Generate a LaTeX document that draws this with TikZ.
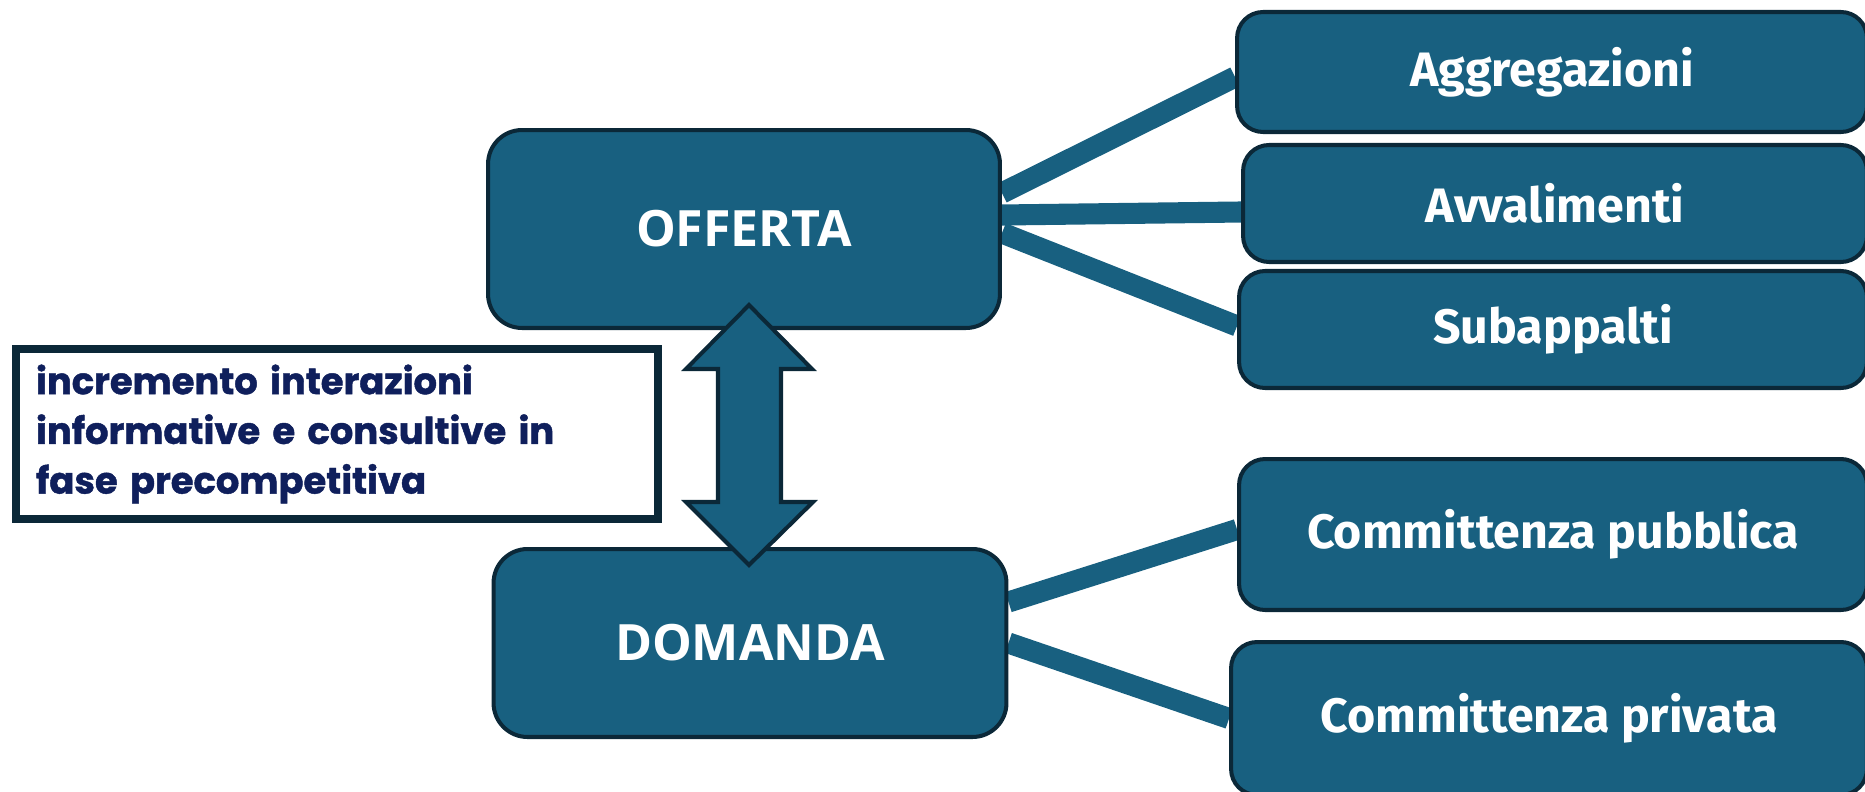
\documentclass[tikz,border=0pt]{standalone}
\usepackage{fontspec}
\usetikzlibrary{positioning,backgrounds,calc}
\newfontfamily\headfont{Open Sans}
\newfontfamily\itemfont{Fira Sans}
\newfontfamily\notefont[BoldFeatures={FakeBold=1.2}]{Poppins}
\definecolor{pblue}{HTML}{186080}
\definecolor{pdark}{HTML}{0B2838}
\definecolor{pnavy}{HTML}{0F1F5C}

\tikzset{
  mainbox/.style={draw=pdark, line width=2.3pt, fill=pblue, rounded corners=0.68cm,
    text=white, font=\headfont\bfseries\fontsize{28.5}{32}\selectfont},
  itembox/.style={draw=pdark, line width=2.3pt, fill=pblue, rounded corners=0.52cm,
    text=white, font=\itemfont\bfseries\fontsize{27.5}{30}\selectfont},
  notebox/.style={draw=pdark, line width=4.5pt, fill=white, text=pnavy, align=left,
    inner xsep=0.41cm, text width=12.04cm, minimum height=3.4cm,
    font=\notefont\bfseries\fontsize{21}{28.3}\selectfont},
  link/.style={pblue, line width=12pt},
  bigarrow/.style={draw=pdark, line width=2.3pt, fill=pblue, line join=miter}
}

\begin{document}
\begin{tikzpicture}[x=0.02cm, y=-0.02cm]
  \useasboundingbox (0,0) rectangle (1865,791);

  % offerta / domanda
  \node[mainbox, minimum width=10.24cm, minimum height=3.96cm] (off) at (744,229) {OFFERTA};
  \node[mainbox, minimum width=10.26cm, minimum height=3.76cm] (dom) at (750,643) {DOMANDA};

  % right column
  \node[itembox, minimum width=12.6cm, minimum height=2.4cm] (agg) at (1552,72) {Aggregazioni};
  \node[itembox, minimum width=12.48cm, minimum height=2.34cm] (avv) at (1555,203.5) {Avvalimenti};
  \node[itembox, minimum width=12.56cm, minimum height=2.34cm] (sub) at (1553,329.5) {Subappalti};
  \node[itembox, minimum width=12.56cm, minimum height=3.02cm] (pub) at (1553,534.5) {Committenza pubblica};
  \node[itembox, minimum width=12.72cm, minimum height=3.06cm] (priv) at (1549,718.5) {Committenza privata};

  % links behind the boxes
  \begin{scope}[on background layer]
    \draw[link] ([yshift=0.72cm]off.east) -- ([yshift=-0.1cm]agg.west);
    \draw[link] ([yshift=0.28cm]off.east) -- ([yshift=-0.17cm]avv.west);
    \draw[link] ([yshift=-0.08cm]off.east) -- ([yshift=0.07cm]sub.west);
    \draw[link] ([yshift=0.82cm]dom.east) -- ([yshift=0.1cm]pub.west);
    \draw[link] (dom.east) -- (priv.west);
  \end{scope}

  % note
  \node[notebox] (note) at (337,434) {incremento interazioni\\
    informative e consultive in\\
    fase precompetitiva};

  % double arrow between the two
  \draw[bigarrow] (749,305) -- (812,369) -- (781,369) -- (781,502) -- (813,502)
    -- (749,565) -- (686,502) -- (718,502) -- (718,369) -- (686,369) -- cycle;
\end{tikzpicture}
\end{document}
